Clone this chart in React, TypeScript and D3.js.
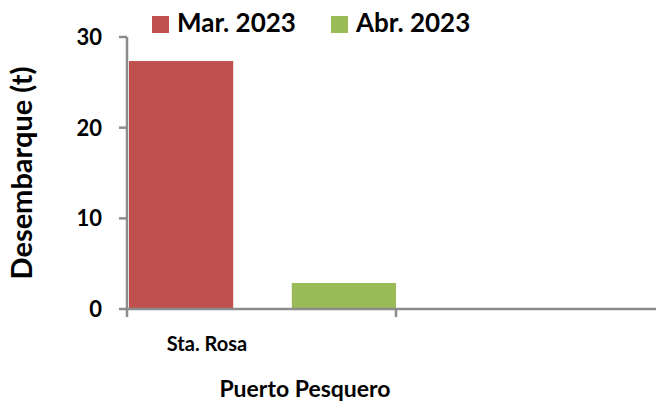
import React from "react";
import * as d3 from "d3";

const categories = ["Sta. Rosa", ""];
const seriesNames = ["Mar. 2023", "Abr. 2023"];
const seriesColors = ["#C0504D", "#9BBB59"];
const marValues = [27.35, 0];
const abrValues = [2.87, 0];
const yTicks = [0, 10, 20, 30];

const W = 656;
const H = 401;
const FONT = "Lato, 'Open Sans', sans-serif";

export default function App() {
  const x0 = 127;
  const x1 = 665;
  const yScale = d3.scaleLinear().domain([0, 30]).range([309, 37]);
  const xOuter = d3.scaleBand<string>().domain(categories).range([x0, x1]).padding(0);
  const xInner = d3
    .scaleBand<string>()
    .domain(seriesNames)
    .range([2, 269])
    .paddingInner(0.36)
    .paddingOuter(0);
  const seriesData = [marValues, abrValues];
  const axisColor = "#8c8c8c";

  return (
    <svg width={W} height={H} style={{ position: "absolute", left: 0, top: 0, background: "#fff" }}>
      {seriesNames.map((s, si) =>
        categories.map((c, ci) => {
          const v = seriesData[si][ci];
          if (!v) return null;
          const bx = (xOuter(c) ?? 0) + (xInner(s) ?? 0);
          return (
            <rect
              key={s + c}
              x={bx}
              y={yScale(v)}
              width={xInner.bandwidth()}
              height={yScale(0) - yScale(v)}
              fill={seriesColors[si]}
            />
          );
        })
      )}
      <line x1={x0} x2={x0} y1={yScale(30)} y2={yScale(0) + 1} stroke={axisColor} strokeWidth={2.5} />
      {yTicks.map((t) => (
        <g key={t}>
          <line x1={119} x2={x0} y1={yScale(t)} y2={yScale(t)} stroke={axisColor} strokeWidth={2.5} />
          <text
            x={102}
            y={yScale(t)}
            dy="0.36em"
            textAnchor="end"
            fontFamily={FONT}
            fontWeight="bold"
            fontSize={22}
            fill="#000"
          >
            {t}
          </text>
        </g>
      ))}
      <line x1={x0} x2={W} y1={yScale(0)} y2={yScale(0)} stroke={axisColor} strokeWidth={2.5} />
      {categories.map((c) => (
        <line
          key={"t" + c}
          x1={xOuter(c) ?? 0}
          x2={xOuter(c) ?? 0}
          y1={yScale(0)}
          y2={yScale(0) + 8}
          stroke={axisColor}
          strokeWidth={2.5}
        />
      ))}
      <text x={207} y={351} textAnchor="middle" fontFamily={FONT} fontWeight="bold" fontSize={20}>
        {categories[0]}
      </text>
      <text x={305} y={397} textAnchor="middle" fontFamily={FONT} fontWeight="bold" fontSize={23}>
        Puerto Pesquero
      </text>
      <text
        transform={`translate(32,173) rotate(-90)`}
        textAnchor="middle"
        fontFamily={FONT}
        fontWeight="bold"
        fontSize={29}
      >
        Desembarque (t)
      </text>
      {seriesNames.map((s, i) => {
        const lx = [152, 331][i];
        return (
          <g key={"lg" + s}>
            <rect x={lx} y={16} width={17} height={17} fill={seriesColors[i]} />
            <text x={lx + 25} y={32} fontFamily={FONT} fontWeight="bold" fontSize={26}>
              {s}
            </text>
          </g>
        );
      })}
    </svg>
  );
}
